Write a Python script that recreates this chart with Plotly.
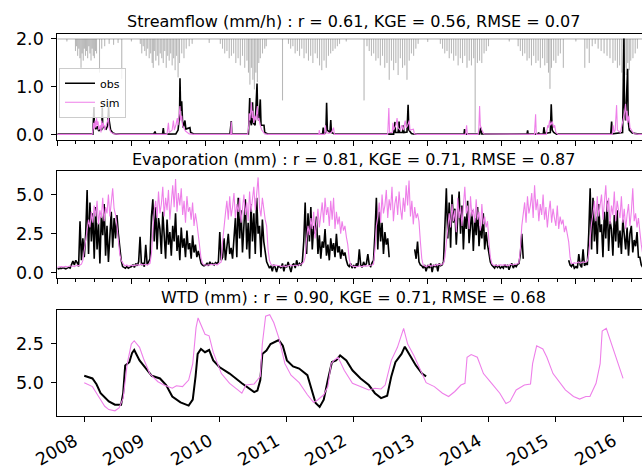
import pandas as pd
import plotly.graph_objects as go

# ---------------- data ----------------
titles = [
    "Streamflow (mm/h) : r = 0.61, KGE = 0.56, RMSE = 0.07",
    "Evaporation (mm) : r = 0.81, KGE = 0.71, RMSE = 0.87",
    "WTD (mm) : r = 0.90, KGE = 0.71, RMSE = 0.68",
]
series_names = ["obs", "sim"]
year_ticks = ["2008", "2009", "2010", "2011", "2012", "2013", "2014", "2015", "2016"]

# streamflow (decimal year, mm/h)
flow_obs_pts = [
    (2008.000, 0.015), (2008.480, 0.015), (2008.495, 0.58), (2008.500, 0.20), (2008.520, 0.12), (2008.540, 0.18),
    (2008.560, 0.08), (2008.580, 0.12), (2008.600, 0.10), (2008.607, 0.57), (2008.612, 0.25), (2008.630, 0.15),
    (2008.660, 0.12), (2008.680, 0.20), (2008.693, 0.59), (2008.700, 0.30), (2008.720, 0.10), (2008.750, 0.04),
    (2008.800, 0.015),
    (2009.300, 0.015), (2009.319, 0.07), (2009.330, 0.015), (2009.420, 0.015), (2009.431, 0.14), (2009.440, 0.015),
    (2009.600, 0.02), (2009.630, 0.10), (2009.650, 0.40), (2009.656, 1.18), (2009.665, 0.50), (2009.679, 0.70),
    (2009.690, 0.30), (2009.700, 0.15), (2009.723, 0.30), (2009.735, 0.12), (2009.790, 0.15), (2009.800, 0.05),
    (2009.850, 0.015),
    (2010.330, 0.015), (2010.348, 0.29), (2010.355, 0.015), (2010.580, 0.02), (2010.597, 0.77), (2010.605, 0.30),
    (2010.620, 0.20), (2010.635, 0.68), (2010.645, 0.25), (2010.670, 0.20), (2010.696, 1.07), (2010.705, 0.40),
    (2010.720, 0.30), (2010.740, 0.74), (2010.750, 0.20), (2010.790, 0.20), (2010.800, 0.05), (2010.850, 0.015),
    (2011.580, 0.015), (2011.590, 0.15), (2011.600, 0.03), (2011.625, 0.05), (2011.635, 0.67), (2011.645, 0.10),
    (2011.680, 0.05), (2011.691, 0.31), (2011.700, 0.05), (2011.750, 0.015),
    (2012.540, 0.015), (2012.558, 0.27), (2012.565, 0.05), (2012.600, 0.05), (2012.613, 0.28), (2012.620, 0.05),
    (2012.660, 0.05), (2012.669, 0.20), (2012.680, 0.05), (2012.720, 0.06), (2012.735, 0.63), (2012.745, 0.10),
    (2012.780, 0.03), (2012.820, 0.015),
    (2013.490, 0.015), (2013.497, 0.12), (2013.510, 0.015), (2013.700, 0.02), (2013.715, 0.15), (2013.730, 0.02),
    (2014.340, 0.015), (2014.348, 0.095), (2014.355, 0.015), (2014.490, 0.015), (2014.497, 0.05), (2014.505, 0.015),
    (2014.560, 0.02), (2014.568, 0.16), (2014.580, 0.03), (2014.655, 0.05), (2014.667, 0.64), (2014.680, 0.10),
    (2014.700, 0.05), (2014.740, 0.015),
    (2015.470, 0.015), (2015.482, 0.28), (2015.490, 0.02), (2015.630, 0.05), (2015.648, 2.01), (2015.655, 0.60),
    (2015.670, 0.30), (2015.698, 1.38), (2015.705, 0.30), (2015.720, 0.10), (2015.760, 0.04), (2015.850, 0.015),
    (2016.000, 0.015),
]
flow_sim_pts = [
    (2008.000, 0.01), (2008.470, 0.01), (2008.480, 0.10), (2008.490, 0.25), (2008.500, 0.12), (2008.510, 0.30),
    (2008.520, 0.15), (2008.530, 0.35), (2008.540, 0.20), (2008.550, 0.28), (2008.560, 0.10), (2008.580, 0.20),
    (2008.590, 0.05), (2008.600, 0.30), (2008.610, 0.15), (2008.620, 0.25), (2008.640, 0.10), (2008.660, 0.20),
    (2008.680, 0.30), (2008.690, 0.35), (2008.700, 0.15), (2008.720, 0.06), (2008.760, 0.02), (2008.850, 0.01),
    (2009.480, 0.01), (2009.500, 0.25), (2009.510, 0.05), (2009.550, 0.10), (2009.567, 0.30), (2009.580, 0.10),
    (2009.600, 0.20), (2009.620, 0.35), (2009.630, 0.20), (2009.645, 0.45), (2009.656, 0.60), (2009.665, 0.30),
    (2009.680, 0.40), (2009.690, 0.20), (2009.710, 0.15), (2009.730, 0.08), (2009.780, 0.02), (2009.850, 0.01),
    (2010.340, 0.01), (2010.348, 0.28), (2010.356, 0.01), (2010.570, 0.01), (2010.585, 0.20), (2010.590, 0.45),
    (2010.600, 0.30), (2010.610, 0.60), (2010.620, 0.68), (2010.630, 0.35), (2010.640, 0.50), (2010.650, 0.25),
    (2010.665, 0.40), (2010.680, 0.30), (2010.690, 0.55), (2010.700, 0.60), (2010.710, 0.30), (2010.720, 0.35),
    (2010.740, 0.20), (2010.760, 0.10), (2010.800, 0.02), (2010.850, 0.01),
    (2011.530, 0.01), (2011.536, 0.10), (2011.545, 0.01), (2011.610, 0.01), (2011.619, 0.20), (2011.630, 0.05),
    (2011.660, 0.03), (2011.700, 0.05), (2011.729, 0.15), (2011.740, 0.01),
    (2012.460, 0.01), (2012.475, 0.56), (2012.485, 0.05), (2012.520, 0.05), (2012.530, 0.25), (2012.540, 0.10),
    (2012.570, 0.20), (2012.586, 0.35), (2012.600, 0.15), (2012.630, 0.10), (2012.650, 0.20), (2012.670, 0.10),
    (2012.696, 0.30), (2012.710, 0.15), (2012.730, 0.20), (2012.751, 0.30), (2012.760, 0.10), (2012.807, 0.12),
    (2012.820, 0.02), (2012.860, 0.01),
    (2013.510, 0.01), (2013.525, 0.20), (2013.535, 0.01), (2013.680, 0.01), (2013.690, 0.15), (2013.700, 0.60),
    (2013.710, 0.20), (2013.730, 0.10), (2013.760, 0.02),
    (2014.440, 0.01), (2014.456, 0.43), (2014.465, 0.01), (2014.600, 0.01), (2014.620, 0.20), (2014.630, 0.15),
    (2014.645, 0.30), (2014.660, 0.20), (2014.680, 0.28), (2014.700, 0.15), (2014.713, 0.20), (2014.730, 0.05),
    (2014.760, 0.01),
    (2015.490, 0.01), (2015.503, 0.20), (2015.515, 0.05), (2015.530, 0.10), (2015.549, 0.62), (2015.560, 0.10),
    (2015.600, 0.05), (2015.620, 0.20), (2015.640, 0.35), (2015.655, 0.45), (2015.670, 0.65), (2015.680, 0.30),
    (2015.690, 0.50), (2015.700, 0.25), (2015.715, 0.40), (2015.730, 0.15), (2015.750, 0.10), (2015.780, 0.03),
    (2015.850, 0.01), (2016.000, 0.01),
]

# rainfall (decimal year, depth on the inverted twin axis)
rain_pts = [
    (2008.130, 0.05), (2008.245, 0.25), (2008.260, 0.15), (2008.275, 0.35), (2008.290, 0.20), (2008.305, 0.40),
    (2008.320, 0.60), (2008.335, 0.30), (2008.350, 0.45), (2008.365, 0.20), (2008.380, 0.35), (2008.395, 0.25),
    (2008.410, 0.40), (2008.425, 0.15), (2008.440, 0.30), (2008.455, 0.45), (2008.470, 0.20), (2008.485, 0.35),
    (2008.500, 0.40), (2008.515, 0.25), (2008.530, 0.30), (2008.570, 0.70), (2008.600, 0.20), (2008.640, 0.15),
    (2008.700, 0.10), (2008.760, 0.12), (2008.820, 0.08), (2008.870, 0.83),
    (2009.000, 0.05), (2009.120, 0.10), (2009.140, 0.30), (2009.160, 0.15), (2009.180, 0.25), (2009.200, 0.35),
    (2009.220, 0.20), (2009.240, 0.40), (2009.260, 0.30), (2009.280, 0.50), (2009.295, 0.60), (2009.310, 0.25),
    (2009.330, 0.45), (2009.350, 0.35), (2009.370, 0.55), (2009.390, 0.30), (2009.410, 0.40), (2009.430, 0.50),
    (2009.450, 0.25), (2009.470, 0.60), (2009.490, 0.35), (2009.510, 0.45), (2009.530, 0.30), (2009.550, 0.55),
    (2009.570, 0.40), (2009.590, 0.65), (2009.610, 0.35), (2009.630, 0.80), (2009.650, 0.50), (2009.680, 0.30),
    (2009.710, 0.40), (2009.740, 0.20), (2009.780, 0.15), (2009.820, 0.10),
    (2010.050, 0.08), (2010.200, 0.10), (2010.230, 0.20), (2010.260, 0.30), (2010.290, 0.25), (2010.320, 0.40),
    (2010.350, 0.35), (2010.380, 0.30), (2010.410, 0.50), (2010.440, 0.40), (2010.470, 0.55), (2010.500, 0.35),
    (2010.530, 0.60), (2010.560, 0.45), (2010.580, 0.70), (2010.600, 0.95), (2010.620, 0.60), (2010.640, 0.85),
    (2010.660, 1.05), (2010.680, 0.70), (2010.700, 0.90), (2010.720, 0.50), (2010.740, 0.40), (2010.770, 0.30),
    (2010.800, 0.20), (2010.820, 0.15),
    (2011.040, 1.28), (2011.120, 0.10), (2011.150, 0.20), (2011.180, 0.15), (2011.210, 0.30), (2011.240, 0.25),
    (2011.270, 0.35), (2011.300, 0.20), (2011.330, 0.40), (2011.360, 0.30), (2011.390, 0.45), (2011.420, 0.35),
    (2011.450, 0.50), (2011.480, 0.30), (2011.510, 0.40), (2011.540, 0.55), (2011.570, 0.65), (2011.600, 0.45),
    (2011.630, 0.60), (2011.660, 0.35), (2011.690, 0.30), (2011.720, 0.25), (2011.750, 0.20), (2011.780, 0.15),
    (2011.810, 0.10), (2011.900, 0.05),
    (2012.140, 1.28), (2012.180, 0.15), (2012.210, 0.25), (2012.240, 0.35), (2012.270, 0.30), (2012.300, 0.45),
    (2012.330, 0.40), (2012.360, 0.55), (2012.390, 0.35), (2012.420, 0.60), (2012.450, 0.50), (2012.480, 0.85),
    (2012.510, 0.45), (2012.540, 0.65), (2012.570, 0.50), (2012.600, 0.75), (2012.630, 0.40), (2012.660, 0.60),
    (2012.690, 0.55), (2012.720, 0.85), (2012.750, 0.45), (2012.780, 0.30), (2012.810, 0.35), (2012.840, 0.20),
    (2012.870, 0.10),
    (2013.000, 0.06), (2013.170, 0.10), (2013.200, 0.20), (2013.230, 0.30), (2013.260, 0.25), (2013.290, 0.40),
    (2013.320, 0.30), (2013.350, 0.45), (2013.380, 0.35), (2013.410, 0.55), (2013.440, 0.40), (2013.470, 0.50),
    (2013.500, 0.35), (2013.530, 0.60), (2013.560, 0.45), (2013.590, 0.55), (2013.620, 0.40), (2013.640, 1.95),
    (2013.670, 0.50), (2013.700, 0.45), (2013.730, 0.50), (2013.760, 0.30), (2013.790, 0.25), (2013.820, 0.15),
    (2014.100, 0.05), (2014.220, 0.15), (2014.250, 0.25), (2014.280, 0.35), (2014.310, 0.30), (2014.340, 0.45),
    (2014.370, 0.40), (2014.400, 0.55), (2014.430, 0.35), (2014.460, 0.50), (2014.490, 0.45), (2014.520, 0.60),
    (2014.550, 0.40), (2014.580, 0.55), (2014.610, 0.50), (2014.630, 0.70), (2014.650, 1.04), (2014.670, 0.60),
    (2014.700, 0.45), (2014.730, 0.50), (2014.760, 0.35), (2014.790, 0.30), (2014.830, 0.60),
    (2015.000, 0.05), (2015.120, 0.60), (2015.150, 0.20), (2015.180, 0.50), (2015.220, 0.15), (2015.260, 0.10),
    (2015.300, 0.20), (2015.340, 0.25), (2015.380, 0.30), (2015.420, 0.35), (2015.460, 0.40), (2015.500, 0.50),
    (2015.530, 0.45), (2015.560, 0.60), (2015.590, 0.55), (2015.620, 0.70), (2015.640, 0.87), (2015.660, 0.60),
    (2015.680, 0.75), (2015.700, 0.50), (2015.720, 0.65), (2015.740, 0.45), (2015.770, 0.40), (2015.800, 0.30),
    (2015.830, 0.20),
]
rain_period = ["2008-01-01", "2016-01-01"]
rain_zero = [0.0, 0.0]

# evaporation, weekly values starting every 1 January (52 per year, 2008..2015)
N = None
evap_obs = [
    0.3, 0.25, 0.3, 0.28, 0.32, 0.3, 0.26, 0.3, 0.35, 0.3, 0.6, 0.75, 0.5, 0.8, 0.65, 0.4, 3.3, 0.8, 2.2, 1.0, 2.5, 5.3, 1.2, 4.5, 2.0,
    3.8, 0.9, 4.2, 1.5, 3.2, 0.6, 3.6, 2.4, 4.4, 1.1, 3.0, 0.7, 2.8, 3.9, 1.6, 3.5, 2.2, 3.7, 2.5, 1.5, 0.8, 0.4, 0.35, 0.3, 0.4, 0.3, 0.35,
    0.4, 0.5, 0.35, 0.6, 0.45, 0.7, 2.3, 0.5, 0.6, 0.4, 1.8, 0.5, 0.7, 0.9, 3.6, 4.7, 2.0, 4.2, 1.5, 3.5, 2.8,
    1.2, 3.9, 2.2, 0.9, 3.4, 1.8, 2.6, 1.1, 3.0, 2.0, 3.8, 1.4, 2.4, 0.8, 2.9, 1.6, 2.2, 1.0, 2.7, 1.5, 1.9, 0.9, 2.4, 1.3, 1.8, 1.0,
    1.4, 1.0, 0.6, 0.5, 0.45,
    0.5, 0.6, 0.45, 0.7, 0.55, 0.6, 0.5, 0.65, 0.6, 0.7, 2.6, 0.8, 1.0, 2.2, 0.8, 1.9, 2.5, 1.2, 1.6, 0.9, 2.3,
    3.5, 1.0, 4.8, 2.2, 4.0, 1.3, 3.6, 4.7, 1.5, 3.2, 0.9, 4.4, 2.0, 3.8, 1.2, 4.8, 2.5, 3.0, 1.0, 3.4,
    2.0, 1.2, 0.7, 0.5, 0.3, 0.45, 0.1, 0.5, 0.35, 0.05, 0.4,
    0.4, 0.3, 0.6, 0.1, 0.5, 0.35, 0.7, 0.4, 0.05, 0.5, 0.6, 0.3, 0.8, 0.45, 0.6, 0.5, 0.7,
    2.0, 4.5, 1.2, 3.8, 2.0, 4.2, 1.5, 3.0, 2.5, 3.6,
    1.2, 2.4, 0.9, 2.0, 1.6, 2.8, 1.1, 1.8, 0.8, 2.2, 1.4, 1.9, 1.0, 2.5, 1.3, 1.7, 0.9, 1.5, 1.1, 1.3,
    0.8, 0.5, 0.4, 0.6, 0.3,
    0.5, 0.3, 0.6, 0.4, 1.5, 0.5, 0.35, 0.7, 0.45, 0.6, 1.2, 0.5, 0.4, 0.65, 0.8,
    2.5, 4.8, 1.5, 3.9, 2.0, 3.2, 1.2, 2.6, 1.8, 2.2, 1.0,
    N, N, N, N, N, N, N, N, N, N, N, N, N, N, N, N, N,
    1.5, 0.9, 2.0, 0.7, 0.5, 0.45, 0.3, 0.5, 0.1,
    0.5, 0.3, 0.6, 0.05, 0.5, 0.4, 0.55, 0.1, 0.6, 0.45, 0.5, 0.7,
    3.0, 5.4, 2.2, 4.5, 1.6, 5.0, 3.2, 4.1, 1.8, 3.7, 5.2, 2.5, 4.3, 1.5, 3.6, 2.8, 4.6, 1.9, 3.3, 4.0,
    1.4, 3.5, 2.4, 4.2, 1.7, 3.0, 2.2, 3.8, 1.5, 2.6, 1.8,
    1.2, 0.7, 0.5, 0.4, 0.3, 0.5, 0.35, 0.45, 0.3,
    0.4, 0.3, 0.55, 0.35, 0.5, 0.2, 0.45, 0.6, 0.3, 0.5, 0.4, 0.55, 0.6, 1.2, 2.5, 0.9,
    N, N, N, N, N, N, N, N, N, N, N, N, N, N, N, N, N, N, N, N, N, N, N, N, N, N, N, N, N, N, N,
    0.8, 0.5, 0.4, 0.6, 0.3,
    0.4, 0.3, 1.2, 0.5, 0.35, 1.5, 0.45, 0.6, 0.5, 2.5, 5.4, 1.5,
    4.8, 2.0, 3.6, 1.2, 4.4, 2.6, 3.1, 1.0, 3.9, 2.2, 4.6, 1.4, 3.3, 2.8, 1.1, 3.7, 2.0, 4.0, 1.6, 2.7,
    1.2, 3.4, 2.3, 1.5, 2.9, 1.1, 2.5, 3.0, 1.3, 2.1, 1.7, 2.6, 1.0,
    1.0, 0.5, 0.3, 0.2, 0.35, 0.4, 0.3,
]
evap_sim = [
    0.35, 0.38, 0.36, 0.4, 0.37, 0.4, 0.42, 0.38, 0.4, 0.45, 0.42, 0.44, 0.4, 0.46, 0.5, 0.45, 0.5, 0.55, 0.8, 1.5,
    2.0, 2.8, 3.4, 2.9, 3.9, 3.2, 4.3, 3.6, 4.6, 3.1, 4.0, 3.5, 4.8, 3.3, 4.2, 3.8, 5.0, 3.6, 4.6, 5.4, 4.1, 3.7,
    3.0, 2.0, 1.2, 0.8, 0.6, 0.5, 0.45, 0.5, 0.42, 0.45,
    0.5, 0.45, 0.48, 0.5, 0.52, 0.47, 0.5, 0.55, 0.5, 0.52, 0.55, 0.5, 0.58, 0.6, 1.2, 2.5, 4.0,
    4.6, 3.5, 5.2, 3.8, 4.4, 5.5, 3.6, 4.8, 4.0, 5.3, 3.4, 4.7, 5.6, 4.2, 6.0, 3.9, 5.1, 4.3, 5.4, 3.7,
    4.6, 3.2, 4.9, 3.9, 4.2, 3.4, 4.5, 3.0, 3.8, 3.2, 2.4, 1.5, 0.9, 0.6, 0.5,
    0.5, 0.48, 0.52, 0.5, 0.55, 0.5, 0.53, 0.56, 0.5, 0.58, 0.6, 0.7, 2.0, 3.2,
    3.8, 4.6, 3.4, 4.9, 3.6, 4.2, 5.1, 3.5, 4.4, 3.9, 4.8, 3.2, 4.1, 5.0, 3.7, 4.5, 3.3, 5.2, 3.9, 4.6,
    5.5, 4.0, 4.9, 6.1, 4.2, 3.6, 4.8, 3.9, 3.4, 3.0, 1.5, 0.8, 0.55, 0.5, 0.45, 0.5, 0.48, 0.5,
    0.45, 0.4, 0.42, 0.45, 0.4, 0.43, 0.47, 0.45, 0.5, 0.44, 0.48, 0.5, 0.46, 0.5, 0.52, 0.55, 0.6, 0.7, 1.0, 2.2, 3.0,
    2.4, 3.5, 2.8, 3.9, 2.2, 3.3, 4.1, 2.9, 3.6, 4.5, 3.2, 4.8, 3.7, 4.2, 3.0, 4.6, 3.4, 4.8, 2.8, 3.9,
    3.1, 3.6, 2.5, 3.3, 2.7, 3.0, 2.3, 1.8, 0.9, 0.5, 0.45,
    0.4, 0.42, 0.38, 0.4, 0.45, 0.42, 0.4, 0.44, 0.46, 0.42, 0.45, 0.5, 0.48, 0.5, 0.55, 1.5, 3.0,
    3.6, 4.5, 3.2, 5.0, 3.8, 4.3, 5.3, 3.5, 4.7, 4.0, 5.5, 3.3, 4.4, 4.9, 3.7, 5.2, 4.1, 3.4, 4.8, 3.9,
    5.6, 4.3, 5.9, 3.6, 4.6, 3.1, 4.2, 3.5, 3.8, 3.3, 2.0, 0.9, 0.5, 0.42, 0.4,
    0.45, 0.5, 0.42, 0.48, 0.5, 0.45, 0.52, 0.5, 0.55, 0.5, 0.58, 0.6, 1.0, 2.0, 3.0,
    3.8, 2.9, 4.4, 3.3, 4.0, 2.6, 4.8, 3.5, 4.2, 3.0, 4.6, 5.5, 3.8, 4.3, 2.8, 4.9, 3.6, 4.1, 3.2, 4.7,
    3.4, 3.9, 2.7, 4.4, 3.1, 3.6, 2.9, 3.3, 2.0, 1.0, 0.6, 0.5, 0.48, 0.5, 0.45, 0.5, 0.52,
    0.5, 0.48, 0.52, 0.5, 0.45, 0.5, 0.55, 0.5, 0.52, 0.56, 0.6, 0.58, 0.65, 1.5, 3.0,
    3.6, 4.5, 3.2, 4.9, 3.8, 4.3, 5.1, 3.5, 5.6, 4.0, 4.7, 3.3, 4.4, 3.7, 5.0, 3.4, 4.2, 2.9, 3.9, 4.6,
    3.2, 4.1, 3.5, 3.0, 4.3, 2.8, 3.6, 3.1, 3.4, 2.6, 3.0, 2.5, 2.0, 1.0, 0.6, 0.6, 0.65,
    0.6, 0.65, 0.7, 0.62, 0.68, 0.7, 0.66, 0.72, 0.75, 1.2, 2.4, 3.2,
    3.8, 4.6, 3.3, 4.9, 3.6, 4.2, 5.0, 3.4, 4.5, 5.6, 3.9, 4.8, 3.1, 4.3, 3.7, 5.2, 3.3, 4.6, 4.0, 3.5,
    4.9, 3.2, 4.1, 2.8, 3.7, 4.4, 3.0, 3.9, 5.4, 3.3, 3.8, 2.9, 3.5, 2.5, 1.8, 1.2, 0.8, 0.6, 0.55, 0.5,
]

# water table depth (decimal year, value)
wtd_obs_pts = [
    (2008.000, 4.56), (2008.061, 4.65), (2008.122, 4.73), (2008.182, 5.10), (2008.243, 5.67), (2008.365, 6.19),
    (2008.456, 6.40), (2008.547, 6.40), (2008.578, 5.67), (2008.608, 3.90), (2008.669, 3.70), (2008.711, 3.10),
    (2008.742, 2.92), (2008.821, 3.58), (2008.912, 4.10), (2009.003, 4.56), (2009.125, 4.73), (2009.216, 5.15),
    (2009.307, 5.88), (2009.429, 6.25), (2009.550, 6.46), (2009.611, 6.08), (2009.653, 4.60), (2009.684, 3.17),
    (2009.733, 2.85), (2009.793, 3.06), (2009.854, 2.92), (2009.915, 3.58), (2010.006, 4.00), (2010.158, 4.42),
    (2010.340, 5.04), (2010.432, 5.35), (2010.523, 5.60), (2010.571, 5.50), (2010.614, 4.83), (2010.644, 3.17),
    (2010.705, 2.96), (2010.766, 2.54), (2010.888, 2.29), (2010.948, 2.65), (2011.009, 3.58), (2011.100, 3.96),
    (2011.191, 4.10), (2011.313, 4.52), (2011.374, 5.35), (2011.435, 6.29), (2011.495, 6.54), (2011.556, 6.08),
    (2011.617, 4.83), (2011.678, 3.69), (2011.739, 3.58), (2011.799, 3.27), (2011.891, 3.58), (2011.982, 4.21),
    (2012.103, 4.73), (2012.225, 5.15), (2012.316, 5.67), (2012.407, 5.98), (2012.498, 5.83), (2012.559, 4.60),
    (2012.620, 3.69), (2012.711, 3.17), (2012.760, 2.71), (2012.833, 3.27), (2012.924, 3.90), (2013.015, 4.42),
    (2013.076, 4.60),
]
wtd_sim_pts = [
    (2008.000, 5.00), (2008.122, 5.25), (2008.213, 5.88), (2008.304, 6.50), (2008.365, 6.71), (2008.456, 6.79),
    (2008.517, 6.60), (2008.578, 5.98), (2008.638, 3.80), (2008.699, 2.54), (2008.742, 2.33), (2008.821, 2.75),
    (2008.881, 3.48), (2008.973, 4.42), (2009.094, 4.94), (2009.185, 5.15), (2009.307, 5.35), (2009.368, 5.20),
    (2009.459, 5.25), (2009.550, 4.83), (2009.611, 3.79), (2009.660, 1.50), (2009.690, 0.88), (2009.745, 1.50),
    (2009.793, 1.92), (2009.854, 2.02), (2009.915, 3.06), (2010.036, 4.42), (2010.158, 5.04), (2010.280, 5.46),
    (2010.340, 5.67), (2010.401, 5.15), (2010.523, 5.08), (2010.614, 4.60), (2010.644, 2.54), (2010.693, 0.77),
    (2010.754, 0.67), (2010.815, 1.19), (2010.888, 2.13), (2010.979, 3.79), (2011.070, 4.52), (2011.191, 5.00),
    (2011.313, 5.77), (2011.404, 6.25), (2011.465, 6.10), (2011.556, 5.77), (2011.617, 5.25), (2011.666, 3.79),
    (2011.708, 3.58), (2011.769, 3.38), (2011.860, 4.21), (2011.982, 5.04), (2012.103, 5.25), (2012.225, 5.46),
    (2012.316, 5.35), (2012.407, 5.40), (2012.468, 5.15), (2012.559, 3.58), (2012.650, 2.75), (2012.742, 1.54),
    (2012.802, 2.54), (2012.894, 3.27), (2013.015, 4.42), (2013.076, 5.00), (2013.198, 5.25), (2013.319, 5.67),
    (2013.410, 5.88), (2013.502, 5.56), (2013.593, 5.15), (2013.653, 5.04), (2013.684, 3.38), (2013.745, 3.21),
    (2013.836, 3.38), (2013.927, 4.42), (2014.049, 5.04), (2014.170, 5.67), (2014.261, 6.33), (2014.322, 6.19),
    (2014.413, 5.46), (2014.535, 5.15), (2014.626, 5.08), (2014.657, 3.79), (2014.717, 2.65), (2014.809, 2.85),
    (2014.869, 3.38), (2014.960, 4.42), (2015.143, 5.46), (2015.264, 5.88), (2015.356, 6.04), (2015.447, 5.88),
    (2015.508, 5.88), (2015.599, 5.04), (2015.660, 3.79), (2015.690, 1.71), (2015.751, 1.54), (2015.812, 2.33),
    (2015.903, 3.58), (2016.000, 4.73),
]

# ---------------- helpers ----------------
BASE = pd.Timestamp("2008-01-01")


def to_dates(ts):
    return [BASE + pd.Timedelta(days=(t - 2008.0) * 365.25) for t in ts]


def split(pts):
    return to_dates([p[0] for p in pts]), [p[1] for p in pts]


def weekly_dates(n):
    return [pd.Timestamp(year=2008 + i // 52, month=1, day=1) + pd.Timedelta(days=7 * (i % 52)) for i in range(n)]


OBS_C = "black"
SIM_C = "#EE7FE9"
RAIN_C = "rgba(120,120,120,0.38)"
FONT = "DejaVu Sans"

W, H = 642, 473
LEFT = 57.3
RIGHT_SPINE = 650.0          # the axes run past the right edge of the picture
vis = (W - LEFT) / (RIGHT_SPINE - LEFT)
xdom = [LEFT / W, 1.0]


def ydom(top, bot):
    return [1 - bot / H, 1 - top / H]


t0, t1 = pd.Timestamp("2008-01-01"), pd.Timestamp("2016-01-01")
top_range = [t0, t0 + (t1 - t0) * vis]
b0 = t0 - (t1 - t0) * 0.05
b1 = t1 + (t1 - t0) * 0.05
bot_range = [b0, b0 + (b1 - b0) * vis]

fig = go.Figure()

# rain (hidden, inverted axis hanging from the top of panel 1)
rx, ry = split(rain_pts)
fig.add_trace(go.Scatter(x=pd.to_datetime(rain_period), y=rain_zero, mode="lines", xaxis="x", yaxis="y",
                         line=dict(color="rgba(120,120,120,0.6)", width=1), showlegend=False, hoverinfo="skip"))
fig.add_trace(go.Bar(x=rx, y=ry, xaxis="x", yaxis="y", width=[0.4 * 86400000] * len(rx),
                     marker=dict(color=RAIN_C, line=dict(color=RAIN_C, width=0.8)), showlegend=False))

fx, fy = split(flow_obs_pts)
fig.add_trace(go.Scatter(x=fx, y=fy, mode="lines", name=series_names[0], xaxis="x", yaxis="y4",
                         line=dict(color=OBS_C, width=1.6)))
sx, sy = split(flow_sim_pts)
fig.add_trace(go.Scatter(x=sx, y=sy, mode="lines", name=series_names[1], xaxis="x", yaxis="y4",
                         line=dict(color=SIM_C, width=1.1)))

ed = weekly_dates(len(evap_obs))
fig.add_trace(go.Scatter(x=ed, y=evap_obs, mode="lines", xaxis="x2", yaxis="y2", connectgaps=False,
                         line=dict(color=OBS_C, width=1.6), showlegend=False))
fig.add_trace(go.Scatter(x=weekly_dates(len(evap_sim)), y=evap_sim, mode="lines", xaxis="x2", yaxis="y2",
                         line=dict(color=SIM_C, width=1.1), showlegend=False))

wx, wy = split(wtd_obs_pts)
fig.add_trace(go.Scatter(x=wx, y=wy, mode="lines", xaxis="x3", yaxis="y3",
                         line=dict(color=OBS_C, width=2), showlegend=False))
vx, vy = split(wtd_sim_pts)
fig.add_trace(go.Scatter(x=vx, y=vy, mode="lines", xaxis="x3", yaxis="y3",
                         line=dict(color=SIM_C, width=1.1), showlegend=False))

tickfont = dict(family=FONT, size=17.5, color="black")
common_x = dict(domain=xdom, showline=True, mirror=True, linecolor="black", linewidth=1, showgrid=False,
                zeroline=False, ticks="outside", ticklen=5, tickwidth=1, tickcolor="black",
                dtick="M12", tick0="2008-01-01")
top_x = dict(common_x, range=top_range, showticklabels=False,
             minor=dict(dtick="M3", tick0="2008-01-01", ticks="outside", ticklen=3, tickwidth=1,
                        tickcolor="black", showgrid=False))
common_y = dict(showline=True, linecolor="black", linewidth=1, showgrid=False, zeroline=False,
                ticks="outside", ticklen=5, tickwidth=1, tickcolor="black", tickfont=tickfont,
                tickformat=".1f", ticklabelstandoff=4)

fig.update_layout(
    width=W, height=H, margin=dict(l=0, r=0, t=0, b=0),
    paper_bgcolor="white", plot_bgcolor="white", barmode="overlay",
    font=dict(family=FONT, color="black"),
    xaxis=dict(top_x, anchor="y"),
    yaxis=dict(domain=ydom(30.3, 138.3), range=[2.1, -0.11], visible=False, fixedrange=True),
    yaxis4=dict(common_y, overlaying="y", anchor="x", side="left", range=[-0.1, 2.11], tickvals=[0, 1, 2]),
    xaxis2=dict(top_x, anchor="y2"),
    yaxis2=dict(common_y, domain=ydom(170.7, 279.0), anchor="x2", range=[-0.31, 6.48], tickvals=[0, 2.5, 5]),
    xaxis3=dict(common_x, anchor="y3", range=bot_range, showticklabels=False),
    yaxis3=dict(common_y, domain=ydom(311.7, 420.0), anchor="x3", range=[7.12, 0.36], tickvals=[2.5, 5.0]),
    legend=dict(x=59 / W, y=1 - 65 / H, xanchor="left", yanchor="top", bgcolor="rgba(255,255,255,0.8)",
                bordercolor="#cccccc", borderwidth=1, font=dict(family=FONT, size=11, color="black"),
                itemwidth=30, tracegroupgap=0),
    showlegend=True,
)

# rotated year labels under the bottom panel (right/top aligned like matplotlib's autofmt_xdate)
for lab in year_ticks:
    fig.add_annotation(text=lab, xref="x3", yref="paper", x=pd.Timestamp(f"{lab}-01-01"), y=1 - 432.5 / H,
                       xanchor="right", yanchor="top", textangle=-30, showarrow=False, xshift=-2,
                       font=dict(family=FONT, size=17.5, color="black"), borderpad=0)

title_px = [29.5, 170.2, 311.2]
for txt, ypx in zip(titles, title_px):
    fig.add_annotation(text=txt, xref="paper", yref="paper", x=(LEFT + RIGHT_SPINE) / 2 / W, y=1 - ypx / H,
                       xanchor="center", yanchor="bottom", showarrow=False,
                       font=dict(family=FONT, size=16, color="black"))

fig.write_html("out.html")
